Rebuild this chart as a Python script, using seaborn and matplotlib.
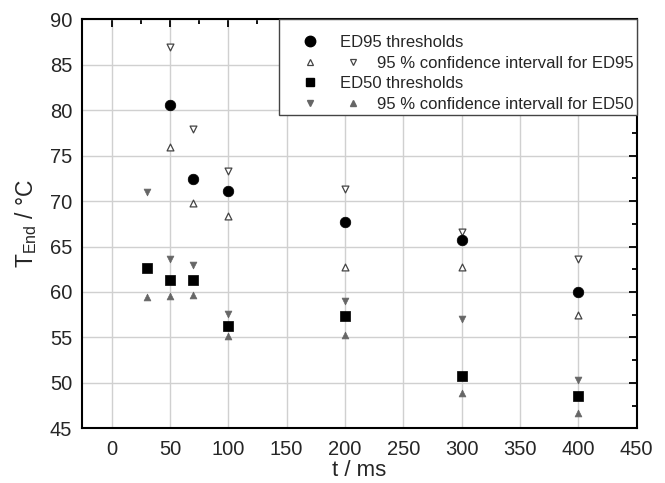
import matplotlib
matplotlib.use("Agg")
import matplotlib.pyplot as plt
import seaborn as sns
from matplotlib.legend_handler import HandlerBase
from matplotlib.lines import Line2D
from matplotlib.ticker import MultipleLocator

t_all = [30, 50, 70, 100, 200, 300, 400]
t_ed95 = [50, 70, 100, 200, 300, 400]
ed95 = [80.6, 72.4, 71.1, 67.7, 65.7, 60.0]
ed95_upper = [87.0, 77.9, 73.3, 71.3, 66.6, 63.6]
ed95_lower = [76.0, 69.8, 68.4, 62.8, 62.8, 57.5]
ed50 = [62.6, 61.3, 61.3, 56.3, 57.3, 50.7, 48.5]
ed50_upper = [71.0, 63.6, 63.0, 57.6, 59.0, 57.0, 50.3]
ed50_lower = [59.4, 59.6, 59.7, 55.1, 55.3, 48.9, 46.7]

x_ticks = [0, 50, 100, 150, 200, 250, 300, 350, 400, 450]
y_ticks = [45, 50, 55, 60, 65, 70, 75, 80, 85, 90]
labels = ['ED95 thresholds', '95 % confidence intervall for ED95',
          'ED50 thresholds', '95 % confidence intervall for ED50']

sns.set_theme(style="white")
plt.rcParams['font.family'] = ['Liberation Sans', 'DejaVu Sans']
plt.rcParams['mathtext.default'] = 'regular'

fig = plt.figure(figsize=(6.65, 4.83), dpi=100)
ax = fig.add_axes([0.124, 0.1133, 0.8334, 0.8467])

gray = '#666666'
edge95 = '#444444'
# ED95 CI (open triangles)
sns.scatterplot(x=t_ed95, y=ed95_lower, marker='^', s=24, facecolor='white',
                edgecolor=edge95, linewidth=0.9, ax=ax, zorder=3)
sns.scatterplot(x=t_ed95, y=ed95_upper, marker='v', s=24, facecolor='white',
                edgecolor=edge95, linewidth=0.9, ax=ax, zorder=3)
# ED50 CI (filled gray)
sns.scatterplot(x=t_all, y=ed50_upper, marker='v', s=24, color=gray,
                edgecolor=gray, linewidth=0.5, ax=ax, zorder=3)
sns.scatterplot(x=t_all, y=ed50_lower, marker='^', s=24, color=gray,
                edgecolor=gray, linewidth=0.5, ax=ax, zorder=3)
# thresholds
sns.scatterplot(x=t_ed95, y=ed95, marker='o', s=58, color='black',
                edgecolor='black', linewidth=0.5, ax=ax, zorder=4)
sns.scatterplot(x=t_all, y=ed50, marker='s', s=48, color='black',
                edgecolor='black', linewidth=0.5, ax=ax, zorder=4)

ax.set_xlim(-25, 450)
ax.set_ylim(45, 90)
ax.set_xticks(x_ticks)
ax.set_yticks(y_ticks)
ax.xaxis.set_minor_locator(MultipleLocator(25))
ax.yaxis.set_minor_locator(MultipleLocator(2.5))
ax.tick_params(which='both', direction='in', top=True, right=True,
               labeltop=False, labelright=False, color='black')
ax.tick_params(which='major', length=6, width=1.3, labelsize=14.5)
ax.tick_params(axis='x', which='major', pad=8.5)
ax.tick_params(axis='y', which='major', pad=7.5)
ax.tick_params(which='minor', length=3.5, width=1.3)
for sp in ax.spines.values():
    sp.set_color('black')
    sp.set_linewidth(1.5)
ax.grid(True, which='major', color='#d0d0d0', linewidth=1.0)
ax.set_axisbelow(True)

ax.set_xlabel('t / ms', fontsize=16, labelpad=1)
ax.set_ylabel('T$_{End}$ / °C', fontsize=16.5, labelpad=8)


class TwoMarkerHandler(HandlerBase):
    def __init__(self, offset):
        super().__init__()
        self.offset = offset

    def create_artists(self, legend, orig_handle, xdescent, ydescent,
                       width, height, fontsize, trans):
        out = []
        y = height / 2 - ydescent
        for h, x in zip(orig_handle, [width / 2 - xdescent, self.offset - xdescent]):
            a = Line2D([x], [y], marker=h.get_marker(), ls='',
                       markersize=h.get_markersize(),
                       markerfacecolor=h.get_markerfacecolor(),
                       markeredgecolor=h.get_markeredgecolor(),
                       markeredgewidth=h.get_markeredgewidth())
            a.set_transform(trans)
            out.append(a)
        return out


h_c = Line2D([], [], marker='o', ls='', color='black', markersize=7.5)
h_u95 = Line2D([], [], marker='^', ls='', markerfacecolor='white',
               markeredgecolor=edge95, markeredgewidth=0.9, markersize=4.5)
h_d95 = Line2D([], [], marker='v', ls='', markerfacecolor='white',
               markeredgecolor=edge95, markeredgewidth=0.9, markersize=4.5)
h_s = Line2D([], [], marker='s', ls='', color='black', markersize=6.3)
h_d50 = Line2D([], [], marker='v', ls='', color=gray, markersize=4.5)
h_u50 = Line2D([], [], marker='^', ls='', color=gray, markersize=4.5)
pad = ' ' * 8
leg = ax.legend([h_c, (h_u95, h_d95), h_s, (h_d50, h_u50)],
                [labels[0], pad + labels[1], labels[2], pad + labels[3]],
                handler_map={tuple: TwoMarkerHandler(51)},
                loc='upper right', bbox_to_anchor=(1.0, 1.0), fontsize=12,
                frameon=True, fancybox=False, edgecolor='#444444',
                framealpha=1, borderaxespad=0, handlelength=3.35,
                handletextpad=0.08, labelspacing=0.33, borderpad=0.2,
                title=' ', title_fontsize=6)
leg.get_frame().set_linewidth(1.0)

fig.savefig('out.png', dpi=100)
